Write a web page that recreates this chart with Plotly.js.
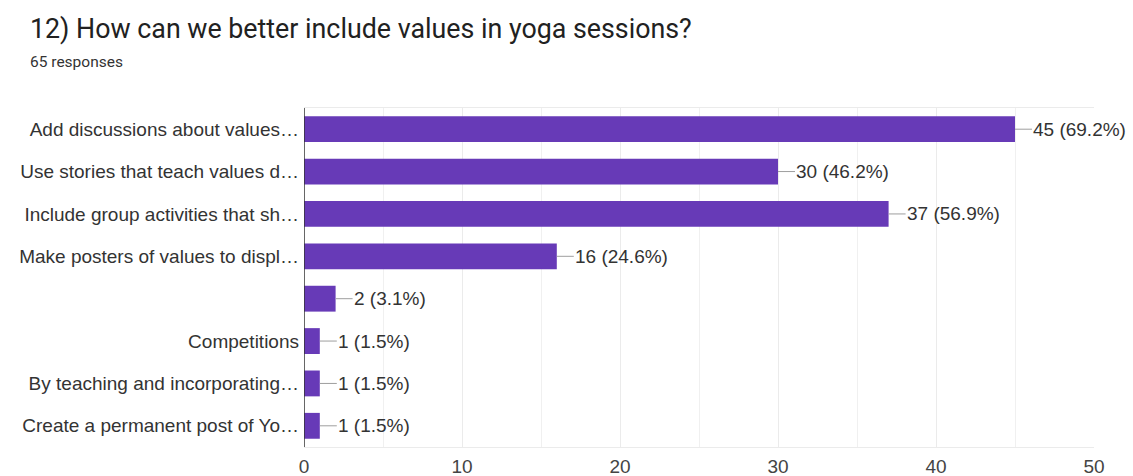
<!DOCTYPE html>
<html>
<head>
<meta charset="utf-8">
<script src="https://cdn.plot.ly/plotly-3.0.1.min.js"></script>
<style>html,body{margin:0;padding:0;background:#fff;}#chart{width:1133px;height:476px;}</style>
</head>
<body>
<div id="chart"></div>
<script>
const categories = [
  "Add discussions about values…",
  "Use stories that teach values d…",
  "Include group activities that sh…",
  "Make posters of values to displ…",
  "",
  "Competitions",
  "By teaching and incorporating…",
  "Create a permanent post of Yo…"
];
const counts = [45, 30, 37, 16, 2, 1, 1, 1];
const totalResponses = 65;
const xTicks = [0, 10, 20, 30, 40, 50];

const positions = categories.map((c, i) => i);
const labels = counts.map(v => v + " (" + (v / totalResponses * 100).toFixed(1) + "%)");

const plotTop = 108, plotH = 339, plotL = 304, plotW = 790;
const labelFont = "'Liberation Sans', Arial, sans-serif";

const trace = {
  type: "bar",
  orientation: "h",
  x: counts,
  y: positions,
  width: 0.61,
  marker: {color: "#673ab7"},
  hoverinfo: "none"
};

const annotations = counts.map((v, i) => ({
  x: v, y: positions[i], xref: "x", yref: "y",
  text: labels[i],
  showarrow: true, arrowhead: 0, arrowwidth: 1, arrowcolor: "#9e9e9e",
  axref: "pixel", ayref: "pixel", ax: 17, ay: 0,
  xanchor: "left", borderpad: 0,
  font: {family: labelFont, size: 19, color: "#333"}
}));

annotations.push({
  xref: "paper", yref: "paper", x: (28 - plotL) / plotW, y: 1 + (plotTop - 29) / plotH,
  xanchor: "left", yanchor: "middle",
  text: "12) How can we better include values in yoga sessions?", showarrow: false,
  font: {family: "Roboto, Arial, sans-serif", size: 26.8, color: "#212121"}
});
annotations.push({
  xref: "paper", yref: "paper", x: (28 - plotL) / plotW, y: 1 + (plotTop - 62) / plotH,
  xanchor: "left", yanchor: "middle",
  text: "65 responses", showarrow: false,
  font: {family: "Roboto, Arial, sans-serif", size: 15.5, color: "#333"}
});

const layout = {
  width: 1133, height: 476,
  margin: {l: plotL, r: 1133 - plotL - plotW, t: plotTop, b: 476 - plotTop - plotH},
  paper_bgcolor: "#fff", plot_bgcolor: "#fff",
  showlegend: false,
  xaxis: {
    range: [0, 50], tickvals: xTicks, ticktext: xTicks.map(String),
    showgrid: true, gridcolor: "#ebebeb", gridwidth: 1,
    minor: {dtick: 5, showgrid: true, gridcolor: "#f0f0f0"},
    showline: true, mirror: true, linecolor: "#ebebeb", linewidth: 1,
    zeroline: false, ticks: "", ticklabelstandoff: 2,
    tickfont: {family: labelFont, size: 19, color: "#444"},
    fixedrange: true
  },
  yaxis: {
    range: [7.5, -0.5], tickvals: positions, ticktext: categories,
    showgrid: false, zeroline: false,
    showline: false, ticks: "", ticklabelstandoff: 4,
    tickfont: {family: labelFont, size: 19, color: "#333"},
    fixedrange: true
  },
  shapes: [{type: "line", xref: "x", yref: "paper", x0: 0, x1: 0, y0: 0, y1: 1,
    line: {color: "#333", width: 1.5}}],
  annotations: annotations
};

Plotly.newPlot("chart", [trace], layout, {staticPlot: true, displayModeBar: false});
</script>
</body>
</html>
